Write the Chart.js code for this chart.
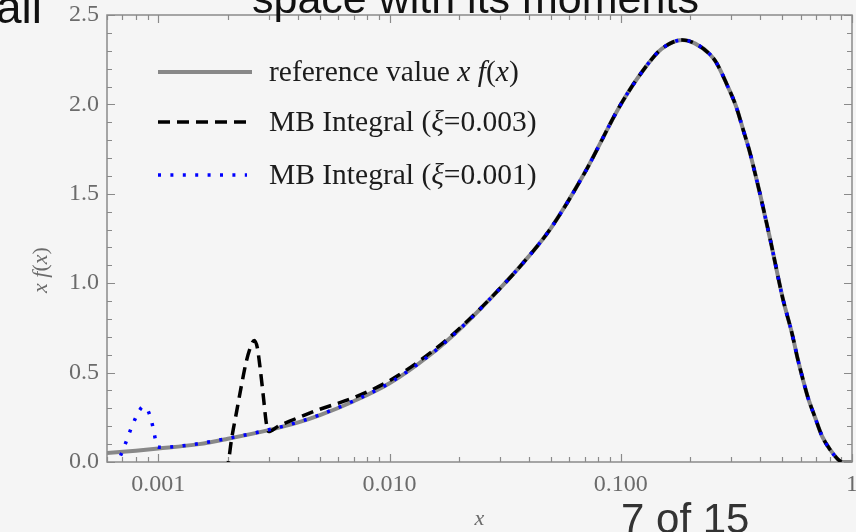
<!DOCTYPE html>
<html>
<head>
<meta charset="utf-8">
<script src="https://cdn.jsdelivr.net/npm/chart.js@4.4.0/dist/chart.umd.min.js"></script>
<style>
  html, body { margin:0; padding:0; width:856px; height:532px; overflow:hidden; background:#f5f5f5; }
  #wrap { position:relative; width:856px; height:532px; }
  #c { position:absolute; left:0; top:0; }
  .slide { position:absolute; font-family:"Liberation Sans", Arial, sans-serif; white-space:nowrap; line-height:1; }
  #t-left { right:814px; top:-16px; font-size:46px; color:#111; }
  #t-top { left:252px; top:-23px; font-size:43px; color:#111; }
  #t-page { left:621px; top:498px; font-size:42px; color:#333; }
</style>
</head>
<body>
<div id="wrap">
  <canvas id="c" width="856" height="532"></canvas>
  <div class="slide" id="t-left">all</div>
  <div class="slide" id="t-top">space with its moments</div>
  <div class="slide" id="t-page">7 of 15</div>
</div>
<script>
// reference value x f(x)
var refX = [0.0006, 0.0008, 0.001, 0.0015, 0.002, 0.003, 0.004, 0.005, 0.007, 0.01, 0.015, 0.02, 0.03, 0.04, 0.05, 0.07, 0.1, 0.13, 0.15, 0.185, 0.21, 0.243, 0.26, 0.288, 0.315, 0.338, 0.362, 0.38, 0.4, 0.442, 0.503, 0.55, 0.584, 0.614, 0.645, 0.692, 0.742, 0.803, 0.869, 0.9, 1];
var refY = [0.05, 0.063, 0.075, 0.1, 0.13, 0.178, 0.22, 0.262, 0.34, 0.44, 0.6, 0.74, 0.97, 1.15, 1.31, 1.62, 2.0, 2.22, 2.31, 2.36, 2.34, 2.28, 2.23, 2.11, 1.99, 1.86, 1.73, 1.62, 1.5, 1.25, 0.91, 0.72, 0.57, 0.46, 0.36, 0.25, 0.145, 0.07, 0.015, 0, 0];

// MB Integral xi=0.003
var dashX = [0.00196, 0.00201, 0.00207, 0.00218, 0.00229, 0.0024, 0.0025, 0.0026, 0.00268, 0.00276, 0.00285, 0.00293, 0.003, 0.0033, 0.0037, 0.0044, 0.005, 0.007, 0.01, 0.015, 0.02, 0.03, 0.04, 0.05, 0.07, 0.1, 0.13, 0.15, 0.185, 0.21, 0.243, 0.26, 0.288, 0.315, 0.338, 0.362, 0.38, 0.4, 0.442, 0.503, 0.55, 0.584, 0.614, 0.645, 0.692, 0.742, 0.803, 0.869, 0.9];
var dashY = [-0.06, 0.0, 0.12, 0.28, 0.43, 0.56, 0.64, 0.68, 0.64, 0.52, 0.36, 0.22, 0.17, 0.2, 0.228, 0.268, 0.295, 0.36, 0.455, 0.61, 0.745, 0.97, 1.15, 1.31, 1.62, 2.0, 2.22, 2.31, 2.36, 2.34, 2.28, 2.23, 2.11, 1.99, 1.86, 1.73, 1.62, 1.5, 1.25, 0.91, 0.72, 0.57, 0.46, 0.36, 0.25, 0.145, 0.07, 0.015, 0];

// MB Integral xi=0.001
var dotX = [0.00066, 0.00067, 0.000705, 0.000734, 0.000764, 0.0008, 0.00083, 0.00086, 0.00089, 0.00092, 0.00095, 0.00097, 0.00099, 0.00103, 0.0015, 0.002, 0.003, 0.004, 0.005, 0.007, 0.01, 0.015, 0.02, 0.03, 0.04, 0.05, 0.07, 0.1, 0.13, 0.15, 0.185, 0.21, 0.243, 0.26, 0.288, 0.315, 0.338, 0.362, 0.38, 0.4, 0.442, 0.503, 0.55, 0.584, 0.614, 0.645, 0.692, 0.742, 0.803, 0.869, 0.9];
var dotY = [-0.03, 0.0, 0.07, 0.13, 0.19, 0.25, 0.29, 0.31, 0.3, 0.26, 0.19, 0.13, 0.085, 0.082, 0.103, 0.132, 0.18, 0.222, 0.264, 0.342, 0.442, 0.6, 0.74, 0.97, 1.15, 1.31, 1.62, 2.0, 2.22, 2.31, 2.36, 2.34, 2.28, 2.23, 2.11, 1.99, 1.86, 1.73, 1.62, 1.5, 1.25, 0.91, 0.72, 0.57, 0.46, 0.36, 0.25, 0.145, 0.07, 0.015, 0];

var seriesLabels = ['reference value x f(x)', 'MB Integral (ξ=0.003)', 'MB Integral (ξ=0.001)'];

var xMin = 0.0006, xMax = 1;
var xMajorTicks = [0.001, 0.01, 0.1, 1];
var xTickLabels = ['0.001', '0.010', '0.100', '1'];
var yMajorTicks = [0, 0.5, 1, 1.5, 2, 2.5];
var yTickLabels = ['0.0', '0.5', '1.0', '1.5', '2.0', '2.5'];
var xAxisTitle = 'x';
var yAxisTitle = 'x f(x)';

var SERIF = '"Liberation Serif", "Times New Roman", serif';
var AXIS_GRAY = '#8a8a8a';

function pts(xs, ys) {
	return xs.map(function(x, i){ return {x: x, y: ys[i]}; });
}

// minor ticks 1..9 per decade (log axis), 0.1 steps on y
var xTickValues = [];
for (var e = -4; e <= 0; e++) {
	for (var m = 1; m <= 9; m++) {
		var v = Number((m * Math.pow(10, e)).toPrecision(6));
		if (v >= xMin - 1e-12 && v <= xMax + 1e-12) xTickValues.push(v);
	}
}
var yTickValues = [];
for (var k = 0; k <= 25; k++) yTickValues.push(k / 10);

function findMajor(list, v) {
	for (var i = 0; i < list.length; i++) {
		if (Math.abs(list[i] - v) <= 1e-9 + 1e-6 * Math.abs(list[i])) return i;
	}
	return -1;
}

// text with lone math letters in italics
function richParts(text) {
	var chars = Array.from(text);
	var isL = function(c){ return !!c && /[A-Za-z]/.test(c); };
	return chars.map(function(c, i){
		return {c: c, it: /[xfξ]/.test(c) && !isL(chars[i-1]) && !isL(chars[i+1])};
	});
}
function drawRich(ctx, text, x, y, size, color, align) {
	var parts = richParts(text);
	var fontFor = function(it){ return (it ? 'italic ' : '') + size + 'px ' + SERIF; };
	var w = 0;
	parts.forEach(function(p){ ctx.font = fontFor(p.it); p.w = ctx.measureText(p.c).width; w += p.w; });
	var cx = align === 'center' ? x - w / 2 : x;
	ctx.fillStyle = color;
	ctx.textBaseline = 'middle';
	ctx.textAlign = 'left';
	parts.forEach(function(p){ ctx.font = fontFor(p.it); ctx.fillText(p.c, cx, y); cx += p.w; });
}

var framePlugin = {
	id: 'frame',
	beforeDatasetsDraw: function(chart) {
		var ctx = chart.ctx, a = chart.chartArea, xs = chart.scales.x, ys = chart.scales.y;
		ctx.save();
		ctx.strokeStyle = AXIS_GRAY;
		ctx.lineWidth = 1.5;
		ctx.strokeRect(a.left, a.top, a.right - a.left, a.bottom - a.top);
		ctx.lineWidth = 1.2;
		ctx.beginPath();
		xs.ticks.forEach(function(t){
			var px = Math.round(xs.getPixelForValue(t.value)) + 0.5;
			var len = findMajor(xMajorTicks, t.value) >= 0 ? 8 : 5;
			ctx.moveTo(px, a.bottom); ctx.lineTo(px, a.bottom - len);
			ctx.moveTo(px, a.top); ctx.lineTo(px, a.top + len);
		});
		ys.ticks.forEach(function(t){
			var py = Math.round(ys.getPixelForValue(t.value)) + 0.5;
			var len = findMajor(yMajorTicks, t.value) >= 0 ? 8 : 5;
			ctx.moveTo(a.left, py); ctx.lineTo(a.left + len, py);
			ctx.moveTo(a.right, py); ctx.lineTo(a.right - len, py);
		});
		ctx.stroke();
		ctx.restore();
	}
};

var legendPlugin = {
	id: 'insideLegend',
	afterDraw: function(chart) {
		var ctx = chart.ctx, a = chart.chartArea;
		var rows = [72, 122, 175];
		ctx.save();
		chart.data.datasets.forEach(function(ds, i){
			ctx.beginPath();
			ctx.strokeStyle = ds.borderColor;
			ctx.lineWidth = ds.borderWidth;
			ctx.lineCap = 'butt';
			ctx.setLineDash(ds.borderDash || []);
			ctx.moveTo(158, rows[i]);
			ctx.lineTo(i === 0 ? 252 : 247, rows[i]);
			ctx.stroke();
			ctx.setLineDash([]);
			drawRich(ctx, ds.label, 269, rows[i] + 1, 29.5, '#1c1c1c', 'left');
		});
		// axis titles
		drawRich(ctx, xAxisTitle, (a.left + a.right) / 2, 519, 22, '#6b6b6b', 'center');
		ctx.translate(41, 270);
		ctx.rotate(-Math.PI / 2);
		drawRich(ctx, yAxisTitle, 0, 0, 22, '#6b6b6b', 'center');
		ctx.restore();
	}
};

var lineDefaults = {pointRadius: 0, pointHoverRadius: 0, fill: false, cubicInterpolationMode: 'monotone', borderCapStyle: 'butt', borderJoinStyle: 'round'};

new Chart(document.getElementById('c').getContext('2d'), {
	type: 'line',
	data: {
		datasets: [
			Object.assign({label: seriesLabels[0], data: pts(refX, refY), borderColor: 'rgb(136,136,136)', borderWidth: 4, order: 3}, lineDefaults),
			Object.assign({label: seriesLabels[1], data: pts(dashX, dashY), borderColor: '#000000', borderWidth: 3.5, borderDash: [12, 7], order: 2}, lineDefaults),
			Object.assign({label: seriesLabels[2], data: pts(dotX, dotY), borderColor: '#0000ff', borderWidth: 3.5, borderDash: [3, 9.4], order: 1}, lineDefaults)
		]
	},
	options: {
		responsive: false,
		animation: false,
		devicePixelRatio: 1,
		layout: {padding: {left: 0, top: 15, right: 4, bottom: 0}},
		plugins: {legend: {display: false}, tooltip: {enabled: false}, title: {display: false}},
		scales: {
			x: {
				type: 'logarithmic',
				min: xMin,
				max: xMax,
				afterBuildTicks: function(s){ s.ticks = xTickValues.map(function(v){ return {value: v}; }); },
				afterFit: function(s){ s.height = 70; s.paddingLeft = 0; s.paddingRight = 0; },
				grid: {display: false, drawTicks: false},
				border: {display: false},
				ticks: {
					autoSkip: false, maxRotation: 0, minRotation: 0, padding: 8,
					color: '#6b6b6b', font: {family: SERIF, size: 24},
					callback: function(v){ var i = findMajor(xMajorTicks, v); return i >= 0 ? xTickLabels[i] : ''; }
				}
			},
			y: {
				type: 'linear',
				min: 0,
				max: 2.5,
				afterBuildTicks: function(s){ s.ticks = yTickValues.map(function(v){ return {value: v}; }); },
				afterFit: function(s){ s.width = 107; s.paddingTop = 0; s.paddingBottom = 0; },
				grid: {display: false, drawTicks: false},
				border: {display: false},
				ticks: {
					autoSkip: false, padding: 8,
					color: '#6b6b6b', font: {family: SERIF, size: 24},
					callback: function(v){ var i = findMajor(yMajorTicks, v); return i >= 0 ? yTickLabels[i] : ''; }
				}
			}
		}
	},
	plugins: [framePlugin, legendPlugin]
});
</script>
</body>
</html>
